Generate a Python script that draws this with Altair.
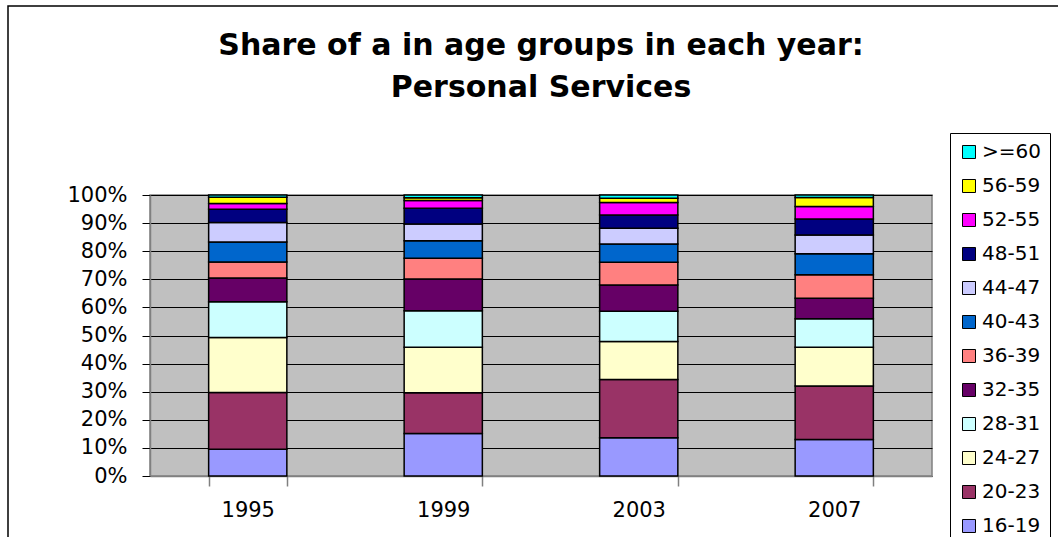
import altair as alt
import pandas as pd

years = ["1995", "1999", "2003", "2007"]
groups = ["16-19", "20-23", "24-27", "28-31", "32-35", "36-39",
          "40-43", "44-47", "48-51", "52-55", "56-59", ">=60"]
colors = ["#9999FF", "#993366", "#FFFFCC", "#CCFFFF", "#660066", "#FF8080",
          "#0066CC", "#CCCCFF", "#000080", "#FF00FF", "#FFFF00", "#00FFFF"]

share_1995 = [9.5, 20.2, 19.6, 12.7, 8.5, 5.7, 7.1, 6.9, 4.7, 2.1, 2.2, 0.8]
share_1999 = [15.1, 14.5, 16.2, 13.0, 11.3, 7.4, 6.2, 6.0, 5.6, 2.7, 1.0, 1.0]
share_2003 = [13.6, 20.7, 13.6, 10.7, 9.4, 8.1, 6.5, 5.6, 4.7, 4.4, 1.5, 1.2]
share_2007 = [13.0, 19.0, 13.8, 10.2, 7.3, 8.3, 7.5, 6.7, 5.7, 4.4, 3.2, 0.9]

series = dict(zip(years, [share_1995, share_1999, share_2003, share_2007]))
rows = []
for y in years:
    for i, g in enumerate(groups):
        rows.append({"year": y, "group": g, "idx": i, "share": series[y][i]})
df = pd.DataFrame(rows)

FONT = "DejaVu Sans"

bars = alt.Chart(df).mark_bar(stroke="black", strokeWidth=1.5).encode(
    x=alt.X("year:N", sort=years, title=None,
            scale=alt.Scale(paddingInner=0.6, paddingOuter=0.3),
            axis=alt.Axis(labelAngle=0, tickBand="extent", tickSize=10,
                          labelPadding=13, labelFontSize=21, labelFont=FONT,
                          labelColor="black", domainColor="#808080",
                          tickColor="#808080", domainWidth=1.5, tickWidth=1.5,
                          grid=False)),
    y=alt.Y("share:Q", stack="normalize", title=None,
            scale=alt.Scale(domain=[0, 1]),
            axis=alt.Axis(values=[i / 10 for i in range(11)], format=".0%",
                          tickSize=8, labelPadding=15, labelFontSize=21,
                          labelFont=FONT, labelColor="black",
                          domainColor="#808080", domainWidth=1.5,
                          tickColor="black", grid=True, gridColor="black",
                          gridWidth=1, gridOpacity=1)),
    color=alt.Color("group:N", sort=groups[::-1],
                    scale=alt.Scale(domain=groups[::-1], range=colors[::-1]),
                    legend=alt.Legend(title=None, orient="none", legendX=800,
                                      legendY=-62, symbolType="square",
                                      symbolSize=169, symbolStrokeColor="black",
                                      symbolStrokeWidth=1, symbolOpacity=1,
                                      labelFontSize=20, labelFont=FONT,
                                      labelColor="black", rowPadding=14,
                                      padding=9, strokeColor="black",
                                      fillColor="white", labelOffset=3)),
    order=alt.Order("idx:Q", sort="ascending"),
)

frame = alt.Chart(alt.Data(values=[{"a": 1}])).mark_rect(
    fill=None, stroke="black", strokeWidth=1.5, clip=False
).encode(
    x=alt.value(-142), x2=alt.value(930),
    y=alt.value(-189), y2=alt.value(360),
)

chart = alt.layer(frame, bars).properties(
    width=782, height=281,
    padding={"left": 150, "top": 195, "right": 126, "bottom": 61},
    autosize=alt.AutoSizeParams(type="none"),
    background="white",
    title=alt.TitleParams(
        text=["Share of a in age groups in each year:", "Personal Services"],
        font=FONT, fontSize=30, fontWeight="bold", color="black",
        anchor="middle", frame="group", lineHeight=42, offset=92, dy=190),
).configure_view(fill="#C0C0C0", stroke="#808080", strokeWidth=1.5)

chart.save("out.html", embed_options={"renderer": "svg", "actions": False})
